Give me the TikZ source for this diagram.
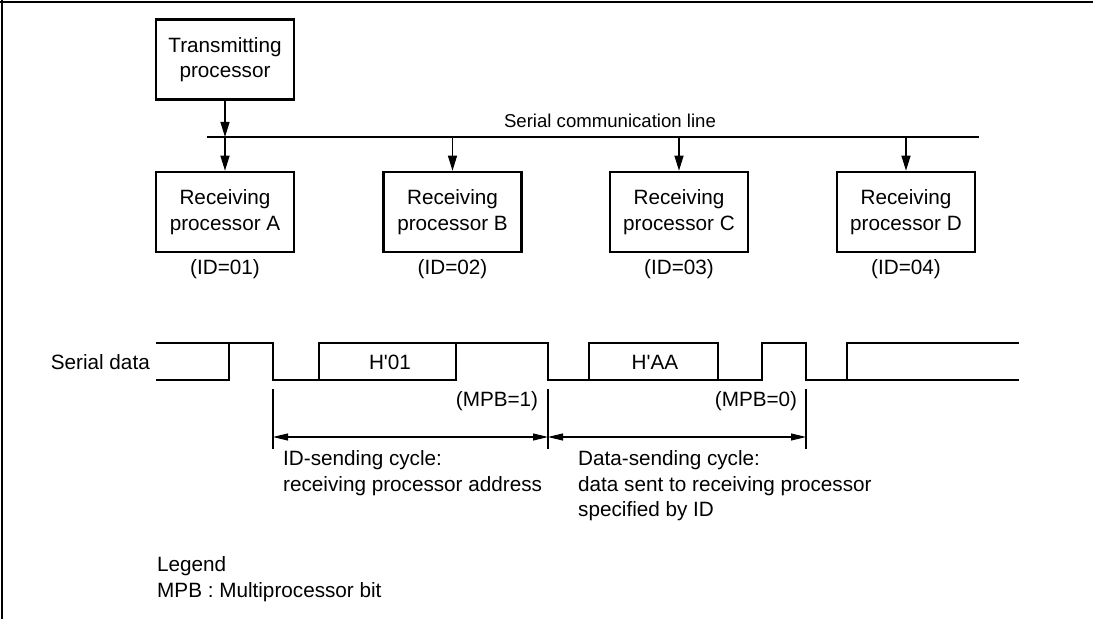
\documentclass[tikz,border=0pt]{standalone}
\usepackage{fontspec}
\setmainfont{Liberation Sans}
\usetikzlibrary{arrows.meta}
\begin{document}
\begin{tikzpicture}[x=1bp,y=-1bp,
  txt/.style={font=\fontsize{20.7bp}{25.5bp}\selectfont, inner sep=0pt, align=center},
  procbox/.style={txt, draw, line width=2.6bp, minimum width=138bp, minimum height=80bp},
  feed/.style={line width=1.3bp, -{Triangle[length=15bp,width=9bp]}},
  bus/.style={line width=2.6bp},
  wave/.style={line width=2.6bp, line join=miter},
  dim/.style={line width=1.1bp},
  dimarrow/.style={line width=1.1bp, {Triangle[length=15bp,width=7bp]}-{Triangle[length=15bp,width=7bp]}}
]
\useasboundingbox (0,0) rectangle (1093,619);
% frame (top and left only)
\draw[line width=1.6bp] (0,2) -- (1093,2);
\draw[line width=1.6bp] (2,0) -- (2,619);

% processors
\node[procbox] (T) at (225,59.5) {Transmitting\\processor};
\node[procbox] (A) at (225,212) {Receiving\\processor A};
\node[procbox] (B) at (452.5,212) {Receiving\\processor B};
\node[procbox] (C) at (679,212) {Receiving\\processor C};
\node[procbox] (D) at (906,212) {Receiving\\processor D};

% bus
\coordinate (busL) at (207,137);
\coordinate (busR) at (979,137);
\draw[bus] (busL) -- (busR);
\node[txt, font=\fontsize{18.6bp}{22bp}\selectfont] (buslabel) at (610,121) {Serial communication line};

\coordinate (tA) at (T.south |- busL);
\draw[feed] (T.south) -- (tA);
\draw[feed] (tA) -- (A.north);
\coordinate (tB) at (B.north |- busL);
\draw[feed] (tB) -- (B.north);
\coordinate (tC) at (C.north |- busL);
\draw[feed] (tC) -- (C.north);
\coordinate (tD) at (D.north |- busL);
\draw[feed] (tD) -- (D.north);

% IDs
\node[txt] (idA) at (225,269) {(ID=01)};
\node[txt] (idB) at (452.5,269) {(ID=02)};
\node[txt] (idC) at (679,269) {(ID=03)};
\node[txt] (idD) at (906,269) {(ID=04)};

% serial data
\node[txt, anchor=east] (sdlabel) at (150,362) {Serial data};
\draw[wave] (156,380) -- (229,380) -- (229,343);
\draw[wave] (156,343) -- (273,343) -- (273,380) -- (456,380) -- (456,343);
\draw[wave] (319,380) -- (319,343) -- (548,343) -- (548,380) -- (762,380) -- (762,343) -- (806,343) -- (806,380) -- (1019,380);
\draw[wave] (589,380) -- (589,343) -- (718,343) -- (718,380);
\draw[wave] (847,380) -- (847,343) -- (1019,343);
\node[txt] (h01) at (390,362) {H\textquotesingle 01};
\node[txt] (haa) at (655,362) {H\textquotesingle AA};
\node[txt] (mpb1) at (497,401) {(MPB=1)};
\node[txt] (mpb0) at (756,401) {(MPB=0)};

% cycle dimensions
\coordinate (d1) at (273,437);
\coordinate (d2) at (548,437);
\coordinate (d3) at (806,437);
\draw[dim] (273,389) -- (273,449);
\draw[dim] (548,389) -- (548,449);
\draw[dim] (806,389) -- (806,449);
\draw[dimarrow] (d1) -- (d2);
\draw[dimarrow] (d2) -- (d3);

\node[txt, align=left, anchor=west] (idcyc) at (283,473) {ID-sending cycle:\\receiving processor address};
\node[txt, align=left, anchor=west] (datacyc) at (578,486) {Data-sending cycle:\\data sent to receiving processor\\specified by ID};

% legend
\node[txt, align=left, anchor=west] (legend) at (157,579) {Legend\\MPB : Multiprocessor bit};
\end{tikzpicture}
\end{document}
